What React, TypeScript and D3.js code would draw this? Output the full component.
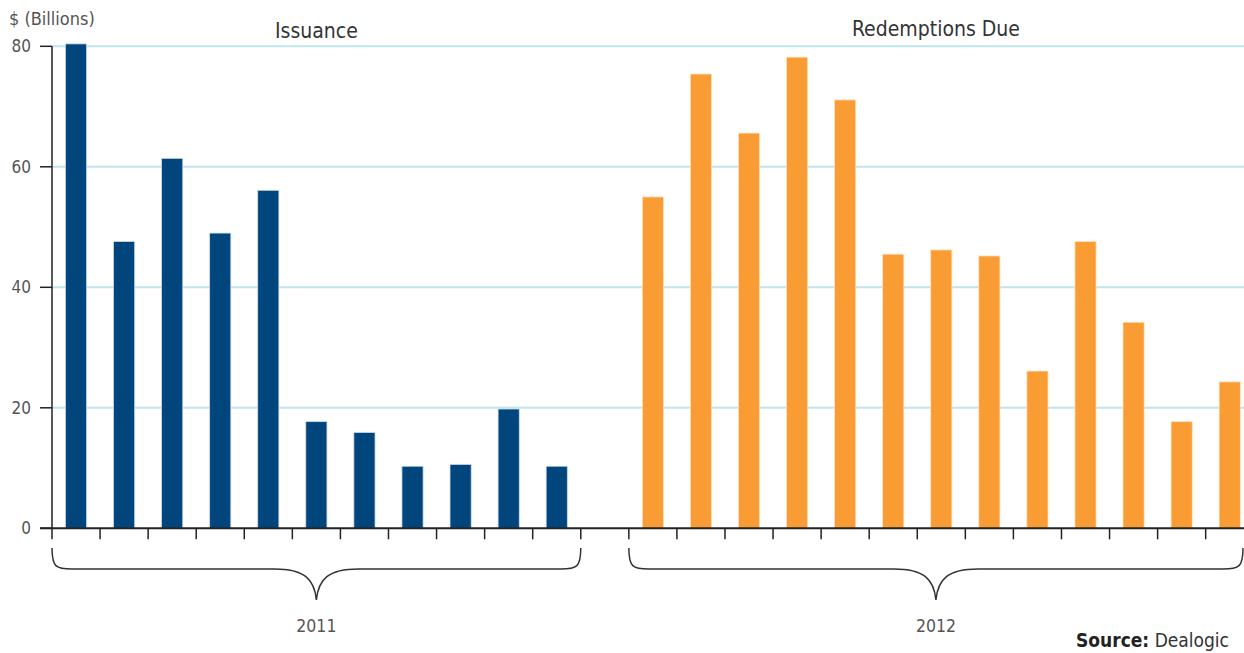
import React from "react";
import * as d3 from "d3";

// Bond issuance (2011) and redemptions due (2012), $ billions
const issuance: number[] = [80.4, 47.6, 61.4, 49.0, 56.1, 17.7, 15.9, 10.3, 10.6, 19.8, 10.3];
const redemptions: number[] = [55.0, 75.4, 65.6, 78.2, 71.1, 45.5, 46.2, 45.2, 26.1, 47.6, 34.2, 17.7, 24.3];
const yTicks: number[] = [0, 20, 40, 60, 80];
const gridTicks: number[] = [20, 40, 60, 80];
const groupTitles: string[] = ["Issuance", "Redemptions Due"];
const yearLabels: string[] = ["2011", "2012"];

const W = 1244;
const H = 653;
const FONT = "'Liberation Sans Narrow', 'DejaVu Sans Condensed', 'Roboto Condensed', 'Liberation Sans', sans-serif";

const BLUE = "#00457c";
const ORANGE = "#f89c33";
const GRID = "#bfe4ee";
const AXIS = "#222";
const LABEL = "#555";

type Slot = { key: string; value: number | null; group: 0 | 1 | null };

const slots: Slot[] = [
  ...issuance.map((v, i) => ({ key: `iss-${i + 1}`, value: v, group: 0 as const })),
  { key: "gap", value: null, group: null },
  ...redemptions.map((v, i) => ({ key: `red-${i + 1}`, value: v, group: 1 as const })),
];

const x0 = 52;
const step = 48.07;

const x = d3
  .scaleBand<string>()
  .domain(slots.map((s) => s.key))
  .range([x0, x0 + step * slots.length])
  .padding(0);

const y = d3.scaleLinear().domain([0, 80]).range([528.3, 46.3]);

// Curly brace under a run of slots, pointing down at its centre
function bracePath(xa: number, xb: number): string {
  const yt = 548;
  const yh = 569;
  const yp = 600;
  const xc = (xa + xb) / 2;
  const r = 20;
  return [
    `M${xa},${yt}`,
    `C${xa},${yh - 2} ${xa + 4},${yh} ${xa + r},${yh}`,
    `L${xc - 42},${yh}`,
    `C${xc - 12},${yh} ${xc - 2},${yh + 10} ${xc},${yp}`,
    `C${xc + 2},${yh + 10} ${xc + 12},${yh} ${xc + 42},${yh}`,
    `L${xb - r},${yh}`,
    `C${xb - 4},${yh} ${xb},${yh - 2} ${xb},${yt}`,
  ].join(" ");
}

export default function App() {
  const bw = x.bandwidth();
  const barW = bw * 0.44;
  const boundaries = d3.range(slots.length + 1).map((i) => x0 + i * x.step());

  const issStart = x(slots[0].key)!;
  const issEnd = x("gap")!;
  const redStart = x(slots[issuance.length + 1].key)!;
  const redEnd = W - 1;

  return (
    <svg
      width={W}
      height={H}
      style={{ position: "absolute", left: 0, top: 0, background: "#fff" }}
      fontFamily={FONT}
    >
      {/* horizontal gridlines */}
      {gridTicks.map((t) => (
        <line key={t} x1={x0} x2={W} y1={y(t)} y2={y(t)} stroke={GRID} strokeWidth={2} />
      ))}

      {/* bars */}
      {slots.map((s) =>
        s.value == null ? null : (
          <rect
            key={s.key}
            x={x(s.key)! + (bw - barW) / 2}
            y={y(s.value)}
            width={barW}
            height={y(0) - y(s.value)}
            fill={s.group === 0 ? BLUE : ORANGE}
            stroke={s.group === 0 ? "#c9d9e8" : "#fde2c0"}
            strokeWidth={0.8}
          />
        )
      )}

      {/* y axis */}
      <line x1={x0} x2={x0} y1={y(80)} y2={y(0)} stroke={AXIS} strokeWidth={1.5} />
      {yTicks.map((t) => (
        <g key={t}>
          <line x1={40} x2={x0} y1={y(t)} y2={y(t)} stroke={AXIS} strokeWidth={1.5} />
          <text
            x={31}
            y={y(t)}
            dy="0.35em"
            textAnchor="end"
            fontSize={17}
            fill={LABEL}
            fontStretch="condensed"
          >
            {t}
          </text>
        </g>
      ))}
      <text x={9} y={25} fontSize={18} fill={LABEL} fontStretch="condensed">
        $ (Billions)
      </text>

      {/* x axis */}
      <line x1={40} x2={W} y1={y(0)} y2={y(0)} stroke={AXIS} strokeWidth={2} />
      {boundaries.map((bx, i) => (
        <line key={i} x1={bx} x2={bx} y1={y(0)} y2={y(0) + 11} stroke={AXIS} strokeWidth={1.5} />
      ))}

      {/* group titles */}
      <text x={(issStart + issEnd) / 2} y={38} textAnchor="middle" fontSize={21} fill="#333" fontStretch="condensed">
        {groupTitles[0]}
      </text>
      <text x={(redStart + redEnd) / 2} y={36} textAnchor="middle" fontSize={21} fill="#333" fontStretch="condensed">
        {groupTitles[1]}
      </text>

      {/* year braces */}
      <path d={bracePath(issStart, issEnd)} fill="none" stroke="#333" strokeWidth={1.5} />
      <path d={bracePath(redStart, redEnd)} fill="none" stroke="#333" strokeWidth={1.5} />
      <text x={(issStart + issEnd) / 2} y={632} textAnchor="middle" fontSize={17.5} fill={LABEL} fontStretch="condensed">
        {yearLabels[0]}
      </text>
      <text x={(redStart + redEnd) / 2} y={632} textAnchor="middle" fontSize={17.5} fill={LABEL} fontStretch="condensed">
        {yearLabels[1]}
      </text>

      {/* source */}
      <text x={1229} y={647} textAnchor="end" fontSize={19} fill="#333" fontStretch="condensed">
        <tspan fontWeight="bold" fill="#222">Source:</tspan>
        <tspan> Dealogic</tspan>
      </text>
    </svg>
  );
}
